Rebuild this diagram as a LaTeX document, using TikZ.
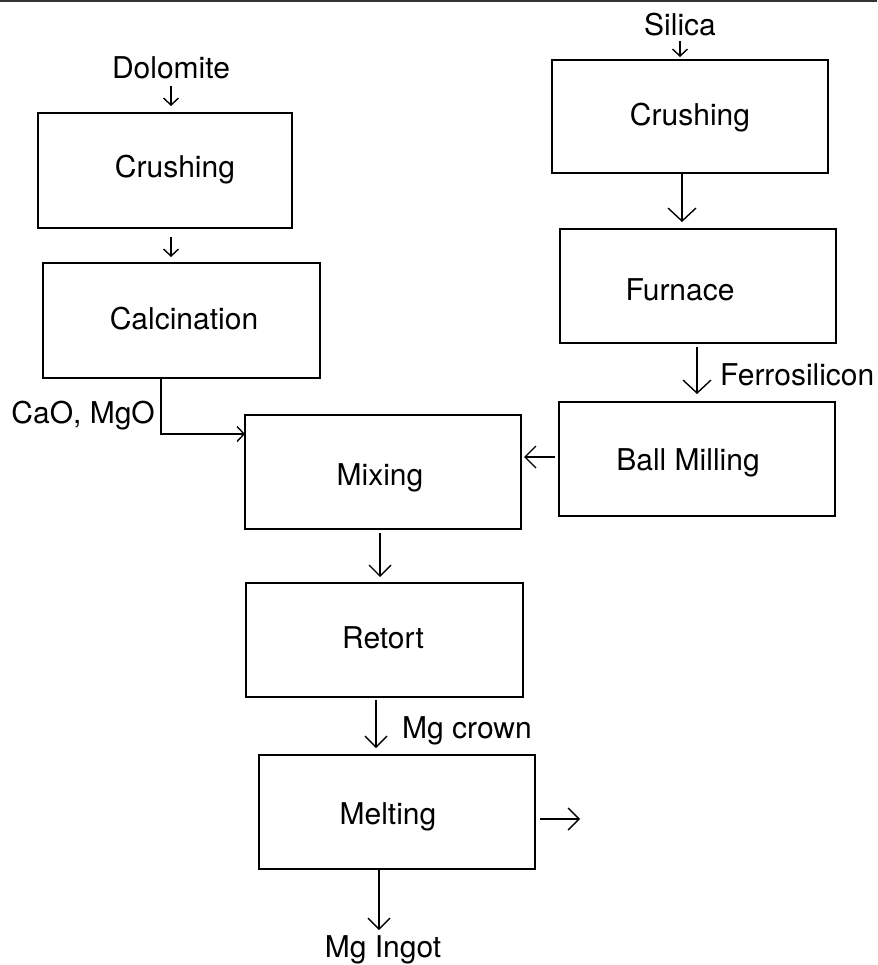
\documentclass[tikz,border=0pt]{standalone}
\usepackage{fontspec}
\setmainfont{TeX Gyre Heros}
\usetikzlibrary{arrows.meta}
\begin{document}
\begin{tikzpicture}[x=1pt,y=-1pt,
  txt/.style={font=\fontsize{30}{36}\selectfont, inner sep=0pt, anchor=base},
  stage/.style={draw, line width=1.5pt, inner sep=0pt},
  flow/.style={line width=1.4pt, -{Straight Barb[length=7pt,width=15pt,line width=1.4pt]}},
  midflow/.style={line width=1.4pt, -{Straight Barb[length=11pt,width=22pt,line width=1.4pt]}},
  bigflow/.style={line width=1.4pt, -{Straight Barb[length=13pt,width=28pt,line width=1.4pt]}}]
\useasboundingbox (0,0) rectangle (877,965);
\fill[white] (0,0) rectangle (877,965);
\draw[line width=3pt, black!80] (0,1) -- (877,1);

% stage boxes
\node[stage, minimum width=254pt, minimum height=115pt] (crushL) at (165,170.5) {};
\node[stage, minimum width=277pt, minimum height=115pt] (calc) at (181.5,320.5) {};
\node[stage, minimum width=276pt, minimum height=113pt] (crushR) at (690,116.5) {};
\node[stage, minimum width=276pt, minimum height=114pt] (furn) at (698,286) {};
\node[stage, minimum width=276pt, minimum height=114pt] (ball) at (697,459) {};
\node[stage, minimum width=276pt, minimum height=114pt] (mix) at (383,472) {};
\node[stage, minimum width=277pt, minimum height=114pt] (ret) at (384.5,640) {};
\node[stage, minimum width=276pt, minimum height=114pt] (melt) at (397,812) {};

% stage names
\node[txt] (crushLt) at (175,178) {Crushing};
\node[txt] (calct) at (184,329) {Calcination};
\node[txt] (crushRt) at (690,126) {Crushing};
\node[txt] (furnt) at (680,300) {Furnace};
\node[txt] (ballt) at (688,470) {Ball Milling};
\node[txt] (mixt) at (380,485) {Mixing};
\node[txt] (rett) at (383,648) {Retort};
\node[txt] (meltt) at (388,824) {Melting};

% stream labels
\node[txt] (dol) at (171,79) {Dolomite};
\node[txt] (sil) at (680,36) {Silica};
\node[txt, anchor=base east] (cao) at (155,423) {CaO, MgO};
\node[txt, anchor=base west] (ferro) at (720,385) {Ferrosilicon};
\node[txt, anchor=base west] (crown) at (402,738) {Mg crown};
\node[txt] (ingot) at (383,957) {Mg Ingot};

% connector ends
\coordinate (dolA) at (171,86);   \coordinate (dolB) at (171,106);
\coordinate (clA) at (171,237);   \coordinate (clB) at (171,257);
\coordinate (caA) at (161,378);   \coordinate (caB) at (245,434);
\coordinate (silA) at (680,41);   \coordinate (silB) at (680,57);
\coordinate (crA) at (682,173);   \coordinate (crB) at (682,222);
\coordinate (fuA) at (697,347);   \coordinate (fuB) at (697,394);
\coordinate (baA) at (555,457);   \coordinate (baB) at (524,457);
\coordinate (miA) at (380,533);   \coordinate (miB) at (380,577);
\coordinate (reA) at (376,700);   \coordinate (reB) at (376,748);
\coordinate (outS) at (540,819);  \coordinate (out) at (580,819);
\coordinate (meA) at (379,869);   \coordinate (meB) at (379,930);

% connectors
\draw[flow] (dolA) -- (dolB);
\draw[flow] (clA) -- (clB);
\draw[flow] (caA) |- (caB);
\draw[flow] (silA) -- (silB);
\draw[bigflow] (crA) -- (crB);
\draw[bigflow] (fuA) -- (fuB);
\draw[midflow] (baA) -- (baB);
\draw[midflow] (miA) -- (miB);
\draw[midflow] (reA) -- (reB);
\draw[midflow] (outS) -- (out);
\draw[midflow] (meA) -- (meB);
\end{tikzpicture}
\end{document}
